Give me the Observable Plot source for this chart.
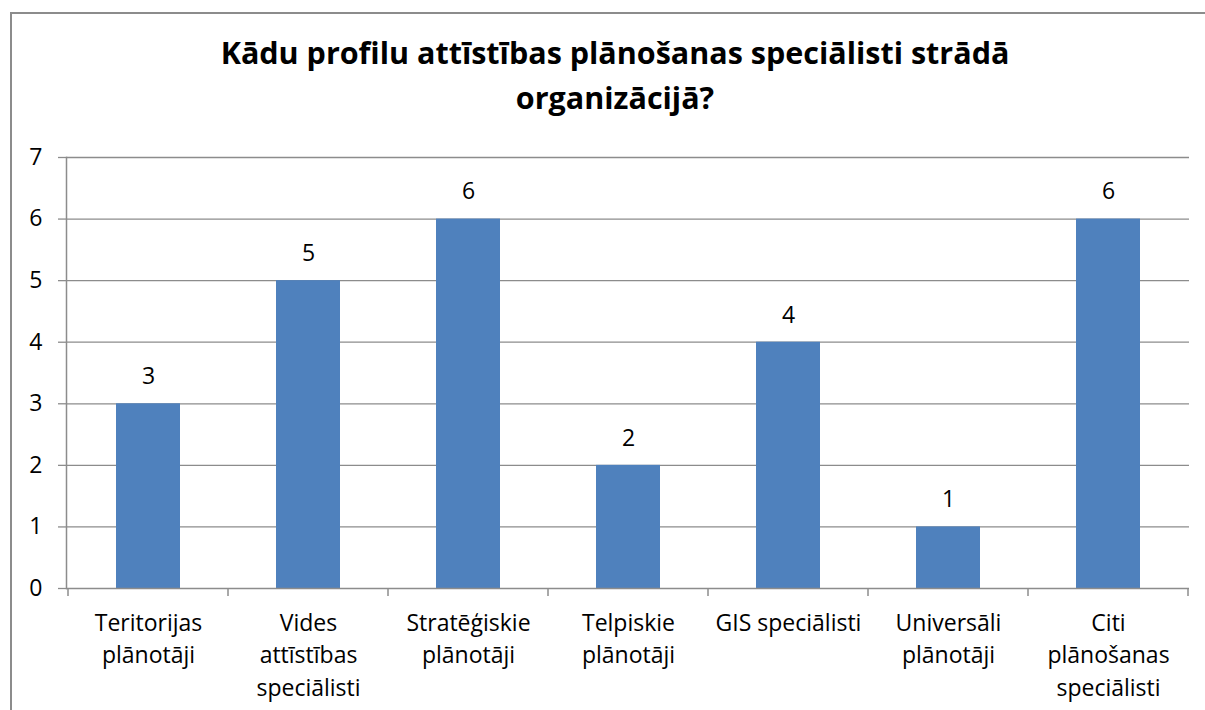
<!DOCTYPE html>
<html>
<head>
<meta charset="utf-8">
<script src="https://cdn.jsdelivr.net/npm/d3@7"></script>
<script src="https://cdn.jsdelivr.net/npm/@observablehq/plot@0.6"></script>
<style>
  html, body { margin: 0; padding: 0; background: #fff; }
  #wrap { position: relative; width: 1205px; height: 710px; overflow: hidden; font-family: "Open Sans", sans-serif; }
  #border { position: absolute; left: 10px; top: 12px; right: -10px; bottom: -10px; border-top: 2px solid #8c8c8c; border-left: 2px solid #8c8c8c; }
  #title { position: absolute; left: 0; width: 1230px; top: 30px; text-align: center; font-weight: bold; font-size: 30.5px; line-height: 45px; color: #000; }
  #chart { position: absolute; left: 0; top: 0; }
</style>
</head>
<body>
<div id="wrap">
  <div id="border"></div>
  <div id="title">Kādu profilu attīstības plānošanas speciālisti strādā<br>organizācijā?</div>
  <div id="chart"></div>
</div>
<script>
const categories = [
  "Teritorijas\nplānotāji",
  "Vides\nattīstības\nspeciālisti",
  "Stratēģiskie\nplānotāji",
  "Telpiskie\nplānotāji",
  "GIS speciālisti",
  "Universāli\nplānotāji",
  "Citi\nplānošanas\nspeciālisti"
];
const values = [3, 5, 6, 2, 4, 1, 6];
const yTicks = [0, 1, 2, 3, 4, 5, 6, 7];

const data = categories.map((c, i) => ({category: c, value: values[i]}));
const gridColor = "#8c8c8c";
const fontFamily = "'Open Sans', sans-serif";

// boundary ticks between categories (Excel style), derived from the band scale
function boundaryTicks(index, scales, values, dimensions) {
  const x = scales.x;
  const bw = x.bandwidth ? x.bandwidth() : 0;
  const centers = categories.map(c => x(c) + bw / 2);
  const step = centers[1] - centers[0];
  const y0 = scales.y(0);
  const g = d3.create("svg:g");
  const edges = [centers[0] - step / 2, ...centers.map(c => c + step / 2)];
  for (const e of edges) {
    g.append("line").attr("x1", e).attr("x2", e).attr("y1", y0).attr("y2", y0 + 8)
      .attr("stroke", gridColor).attr("stroke-width", 1.5);
  }
  return g.node();
}

const chart = Plot.plot({
  width: 1205,
  height: 710,
  marginLeft: 66,
  marginRight: 16,
  marginTop: 157,
  marginBottom: 122,
  style: {fontFamily, background: "transparent", overflow: "visible"},
  x: {domain: categories, paddingInner: 0.6, paddingOuter: 0.3, label: null},
  y: {domain: [0, 7], label: null},
  marks: [
    Plot.gridY(yTicks.slice(1), {stroke: gridColor, strokeOpacity: 1, strokeWidth: 1.3}),
    Plot.barY(data, {x: "category", y: "value", fill: "#4F81BD"}),
    Plot.text(data, {x: "category", y: "value", text: d => String(d.value), dy: -27, fontSize: 23, fill: "#000"}),
    Plot.axisY(yTicks, {tickSize: 8, tickPadding: 16, tickFormat: d3.format("d"), fontSize: 23, stroke: gridColor, strokeWidth: 1.3, fill: "#000", label: null}),
    Plot.axisX({tickSize: 0, tickPadding: 19, fontSize: 23, lineHeight: 1.42, fill: "#000", label: null}),
    Plot.ruleY([0], {stroke: gridColor, strokeWidth: 1.5}),
    Plot.frame({anchor: "left", stroke: gridColor, strokeWidth: 1.5}),
    boundaryTicks
  ]
});
document.getElementById("chart").appendChild(chart);
</script>
</body>
</html>
